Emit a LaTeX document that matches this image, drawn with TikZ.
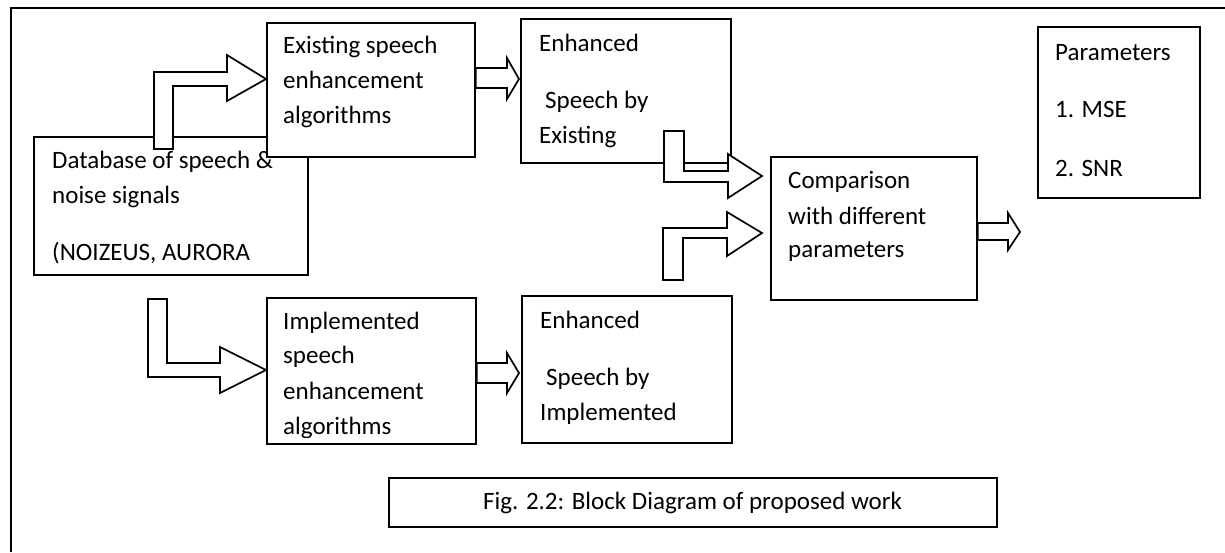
\documentclass[tikz,border=0pt]{standalone}
\usepackage{fontspec}
\setmainfont{Carlito}
\begin{document}
\begin{tikzpicture}[x=1pt,y=-1pt,
  box/.style={draw, line width=1.7pt, fill=white, inner sep=0pt, anchor=north west},
  barrow/.style={draw, line width=1.7pt, fill=white, line join=miter},
  txt/.style={anchor=base west, inner sep=0pt, font=\fontsize{25}{30}\selectfont}]
\useasboundingbox (0,0) rectangle (1225,552);
% outer frame
\draw[line width=1.4pt] (11,552) -- (11,8) -- (1225,8);
% boxes
\node[box, minimum width=274pt, minimum height=138pt] (db) at (33,136) {};
\node[box, minimum width=208pt, minimum height=134pt] (exist) at (266,22) {};
\node[box, minimum width=210pt, minimum height=144pt] (enh1) at (520,18) {};
\node[box, minimum width=206pt, minimum height=143pt] (comp) at (770,156) {};
\node[box, minimum width=162pt, minimum height=171pt] (par) at (1037,26) {};
\node[box, minimum width=209pt, minimum height=146pt] (impl) at (266,297) {};
\node[box, minimum width=210pt, minimum height=147pt] (enh2) at (521,295) {};
\node[box, minimum width=608pt, minimum height=49pt] (cap) at (388,477) {};
% block arrows
\draw[barrow] (154,149) -- (154,72) -- (227,72) -- (227,55) -- (exist.west |- 0,79) -- (227,101) -- (227,86) -- (173,86) -- (173,149) -- cycle;
\draw[barrow] (exist.east |- 0,68) -- (507,68) -- (507,58) -- (519,79) -- (507,99) -- (507,88) -- (exist.east |- 0,88) -- cycle;
\draw[barrow] (664,131) -- (684,131) -- (684,171) -- (728,171) -- (728,154) -- (762,176) -- (728,198) -- (728,182) -- (664,182) -- cycle;
\draw[barrow] (663,280) -- (663,228) -- (727,228) -- (727,212) -- (762,233) -- (727,256) -- (727,238) -- (683,238) -- (683,280) -- cycle;
\draw[barrow] (comp.east |- 0,223) -- (1008,223) -- (1008,213) -- (1020,232) -- (1008,250) -- (1008,240) -- (comp.east |- 0,240) -- cycle;
\draw[barrow] (148,299) -- (167,299) -- (167,363) -- (220,363) -- (220,347) -- (impl.west |- 0,370) -- (220,393) -- (220,377) -- (148,377) -- cycle;
\draw[barrow] (impl.east |- 0,363) -- (507,363) -- (507,353) -- (519,373) -- (507,393) -- (507,383) -- (impl.east |- 0,383) -- cycle;
% texts
\node[txt] (db1) at (52,168) {Database of speech \&};
\node[txt] (db2) at (52,203) {noise signals};
\node[txt] (db3) at (52,260) {(NOIZEUS, AURORA};
\node[txt] (ex1) at (283,53) {Existing speech};
\node[txt] (ex2) at (283,88) {enhancement};
\node[txt] (ex3) at (283,123) {algorithms};
\node[txt] (en1) at (539,51) {Enhanced};
\node[txt] (en2) at (545,108) {Speech by};
\node[txt] (en3) at (539,143) {Existing};
\node[txt] (co1) at (788,188) {Comparison};
\node[txt] (co2) at (788,224) {with different};
\node[txt] (co3) at (788,257) {parameters};
\node[txt] (pa1) at (1055,60) {Parameters};
\node[txt] (pa2) at (1055,117) {1. MSE};
\node[txt] (pa3) at (1055,176) {2. SNR};
\node[txt] (im1) at (283,329) {Implemented};
\node[txt] (im2) at (283,363) {speech};
\node[txt] (im3) at (283,399) {enhancement};
\begin{scope}
\clip (266,297) rectangle (475,437);
\node[txt] (im4) at (283,434) {algorithms};
\end{scope}
\node[txt] (ei1) at (540,328) {Enhanced};
\node[txt] (ei2) at (546,385) {Speech by};
\node[txt] (ei3) at (540,420) {Implemented};
\node[txt] (ca1) at (483,509) {Fig. 2.2: Block Diagram of proposed work};
\end{tikzpicture}
\end{document}
